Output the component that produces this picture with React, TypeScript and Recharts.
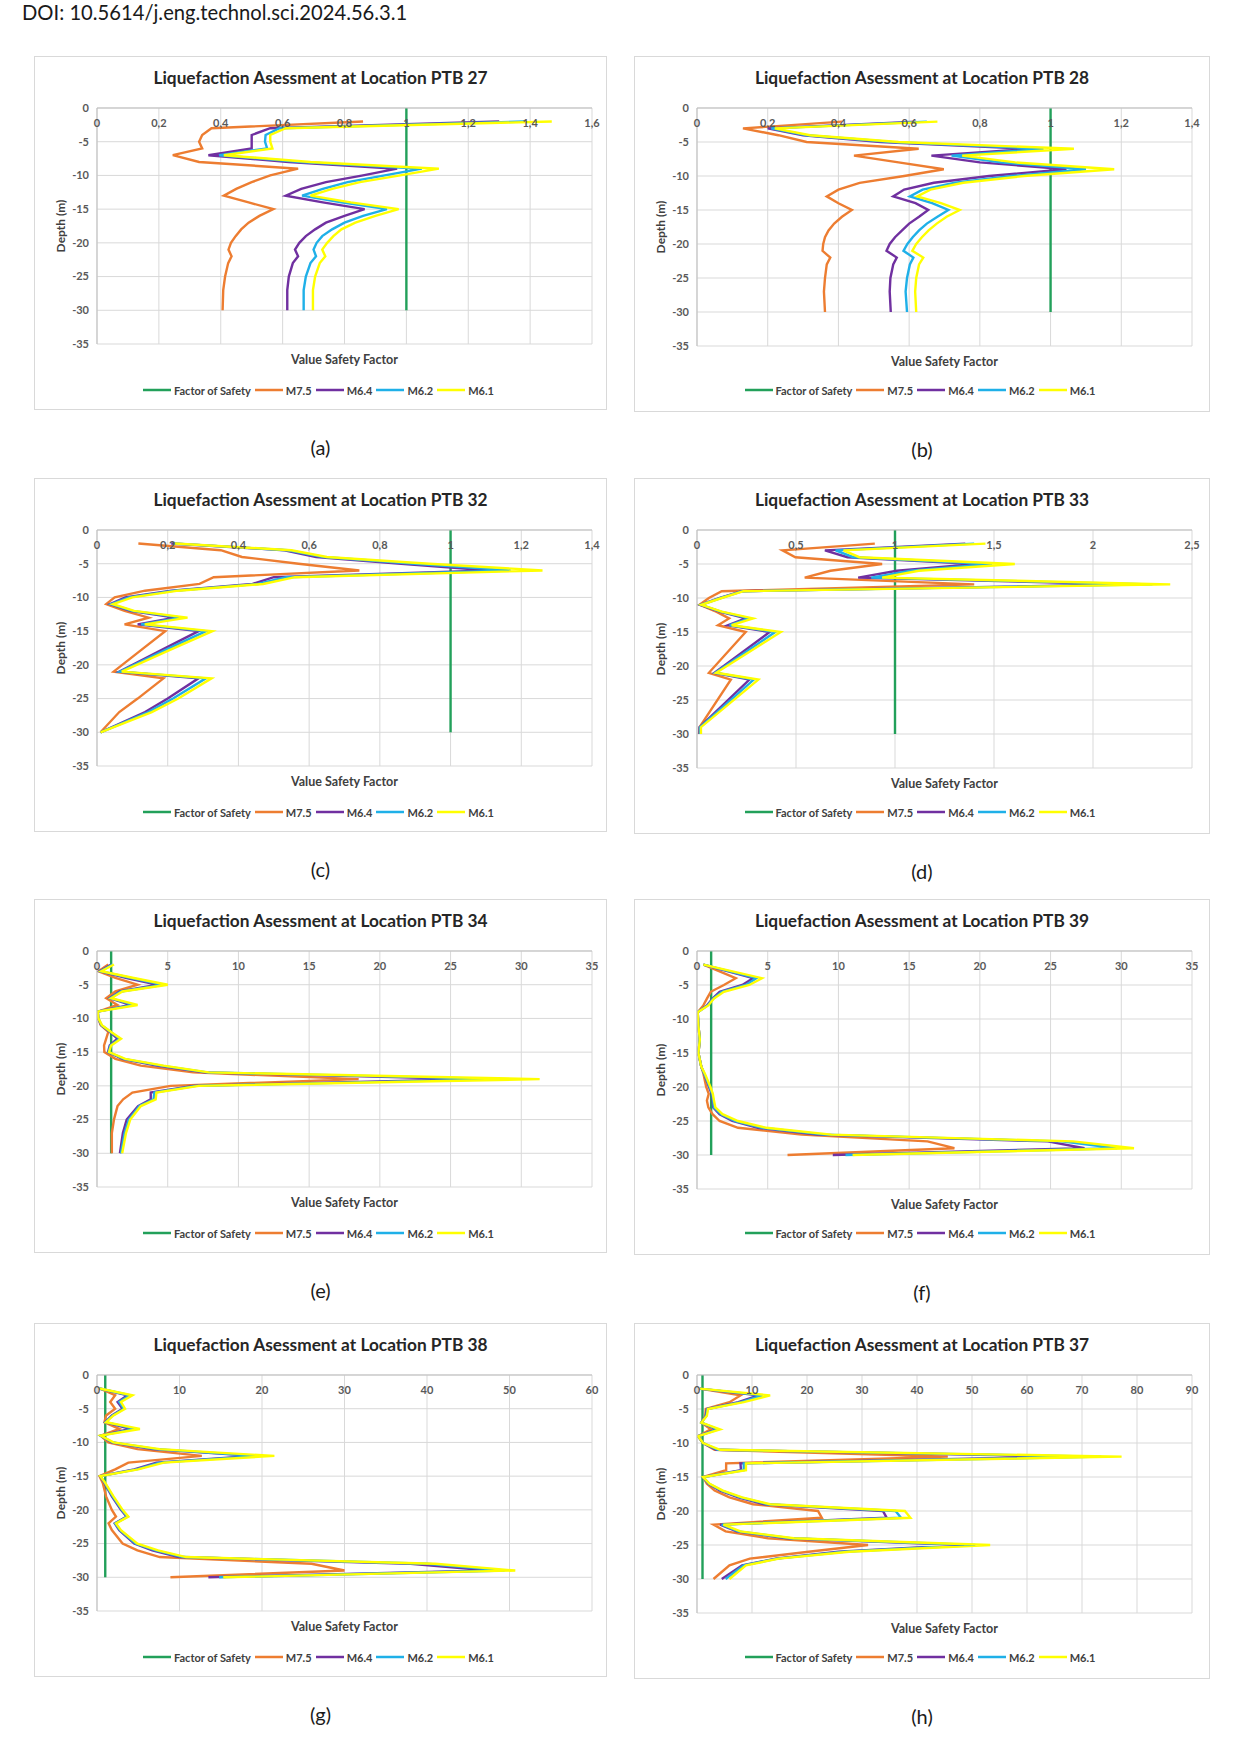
import { CartesianGrid, Legend, Line, LineChart, XAxis, YAxis } from "recharts";

const FONT = "Lato, 'Open Sans', sans-serif";

// depth below ground (m) shared by every borehole plot
const depthTicks = [0, -5, -10, -15, -20, -25, -30, -35];
const fosDepth = [0, -30];
const fosValue = [1, 1];

// PTB 27
const ptb27Ticks = [0, 0.2, 0.4, 0.6, 0.8, 1, 1.2, 1.4, 1.6];
const ptb27Depth = [-2, -3, -4, -5, -6, -7, -8, -9, -10, -11, -12, -13, -14, -15, -16, -17, -18, -19, -20, -21, -22, -23, -25, -27, -30];
const ptb27M75 = [0.86, 0.37, 0.34, 0.33, 0.34, 0.245, 0.33, 0.65, 0.56, 0.5, 0.45, 0.41, 0.49, 0.57, 0.525, 0.49, 0.466, 0.448, 0.433, 0.425, 0.435, 0.424, 0.414, 0.408, 0.406];
const ptb27M64 = [1.3, 0.56, 0.5, 0.5, 0.5, 0.36, 0.62, 0.97, 0.86, 0.74, 0.66, 0.61, 0.73, 0.865, 0.8, 0.74, 0.705, 0.675, 0.654, 0.64, 0.65, 0.633, 0.62, 0.615, 0.615];
const ptb27M62 = [1.38, 0.59, 0.545, 0.543, 0.55, 0.395, 0.66, 1.05, 0.93, 0.81, 0.73, 0.663, 0.79, 0.937, 0.86, 0.8, 0.76, 0.728, 0.71, 0.7, 0.708, 0.69, 0.675, 0.668, 0.668];
const ptb27M61 = [1.47, 0.61, 0.56, 0.56, 0.567, 0.41, 0.69, 1.105, 0.98, 0.85, 0.76, 0.69, 0.82, 0.975, 0.9, 0.835, 0.79, 0.764, 0.744, 0.728, 0.738, 0.72, 0.705, 0.698, 0.698];

// PTB 28
const ptb28Ticks = [0, 0.2, 0.4, 0.6, 0.8, 1, 1.2, 1.4];
const ptb28Depth = [-2, -3, -4, -5, -6, -7, -8, -9, -10, -11, -12, -13, -14, -15, -16, -17, -18, -19, -20, -21, -22, -23, -25, -27, -30];
const ptb28M75 = [0.41, 0.13, 0.23, 0.31, 0.627, 0.444, 0.57, 0.698, 0.586, 0.46, 0.4, 0.367, 0.4, 0.438, 0.41, 0.388, 0.372, 0.362, 0.357, 0.355, 0.377, 0.367, 0.362, 0.359, 0.362];
const ptb28M64 = [0.62, 0.2, 0.3, 0.52, 0.94, 0.663, 0.8, 1.045, 0.826, 0.67, 0.586, 0.555, 0.618, 0.654, 0.628, 0.6, 0.58, 0.56, 0.545, 0.536, 0.565, 0.555, 0.547, 0.545, 0.548];
const ptb28M62 = [0.65, 0.21, 0.31, 0.55, 0.98, 0.72, 0.86, 1.1, 0.89, 0.73, 0.638, 0.602, 0.665, 0.711, 0.68, 0.65, 0.628, 0.61, 0.595, 0.584, 0.612, 0.602, 0.594, 0.59, 0.594];
const ptb28M61 = [0.68, 0.22, 0.32, 0.57, 1.066, 0.75, 0.9, 1.18, 0.925, 0.753, 0.66, 0.623, 0.69, 0.743, 0.706, 0.678, 0.655, 0.636, 0.62, 0.609, 0.64, 0.628, 0.62, 0.617, 0.62];

// PTB 32
const ptb32Ticks = [0, 0.2, 0.4, 0.6, 0.8, 1, 1.2, 1.4];
const ptb32Depth = [-2, -3, -4, -5, -6, -7, -8, -9, -10, -11, -12, -13, -14, -15, -18, -21, -22, -25, -27, -30];
const ptb32M75 = [0.117, 0.35, 0.41, 0.57, 0.742, 0.33, 0.29, 0.136, 0.05, 0.026, 0.078, 0.146, 0.078, 0.193, 0.12, 0.047, 0.188, 0.115, 0.063, 0.01];
const ptb32M64 = [0.21, 0.53, 0.62, 0.86, 1.113, 0.5, 0.44, 0.21, 0.08, 0.037, 0.094, 0.22, 0.115, 0.287, 0.175, 0.063, 0.287, 0.2, 0.136, 0.01];
const ptb32M62 = [0.215, 0.54, 0.64, 0.9, 1.17, 0.535, 0.455, 0.22, 0.09, 0.04, 0.1, 0.24, 0.125, 0.308, 0.185, 0.065, 0.308, 0.215, 0.145, 0.01];
const ptb32M61 = [0.22, 0.55, 0.65, 0.94, 1.26, 0.56, 0.47, 0.23, 0.1, 0.045, 0.105, 0.256, 0.135, 0.326, 0.197, 0.07, 0.324, 0.23, 0.155, 0.01];

// PTB 33
const ptb33Ticks = [0, 0.5, 1, 1.5, 2, 2.5];
const ptb33Depth = [-2, -3, -4, -5, -6, -7, -8, -9, -10, -11, -12, -13, -14, -15, -21, -22, -29, -30];
const ptb33M75 = [0.898, 0.432, 0.497, 0.935, 0.674, 0.544, 1.4, 0.125, 0.06, 0.013, 0.097, 0.162, 0.106, 0.246, 0.06, 0.171, 0.013, 0.01];
const ptb33M64 = [1.355, 0.646, 0.76, 1.41, 1.01, 0.814, 2.18, 0.227, 0.115, 0.017, 0.115, 0.246, 0.156, 0.367, 0.088, 0.265, 0.013, 0.013];
const ptb33M62 = [1.4, 0.7, 0.79, 1.49, 1.08, 0.88, 2.3, 0.23, 0.12, 0.02, 0.12, 0.265, 0.165, 0.395, 0.092, 0.287, 0.015, 0.015];
const ptb33M61 = [1.457, 0.74, 0.82, 1.605, 1.12, 0.935, 2.39, 0.235, 0.125, 0.022, 0.125, 0.283, 0.175, 0.423, 0.097, 0.31, 0.02, 0.02];

// PTB 34
const ptb34Ticks = [0, 5, 10, 15, 20, 25, 30, 35];
const ptb34Depth = [-2, -3, -4, -5, -6, -7, -8, -9, -10, -11, -12, -13, -14, -15, -16, -17, -18, -19, -20, -21, -22, -23, -25, -27, -30];
const ptb34M75 = [0.8, 0.1, 1.3, 2.87, 1.3, 0.65, 1.44, 0.05, 0.08, 0.26, 0.8, 0.65, 0.5, 0.52, 1.3, 3.1, 6.8, 18.5, 5.2, 2.5, 1.85, 1.45, 1.2, 1.05, 1.05];
const ptb34M64 = [1.0, 0.2, 2.1, 4.3, 1.6, 0.9, 2.35, 0.05, 0.1, 0.3, 0.9, 1.44, 0.9, 0.78, 1.8, 4.2, 7.6, 26.4, 6.8, 3.8, 3.8, 2.9, 2.1, 1.83, 1.62];
const ptb34M62 = [1.1, 0.25, 2.4, 4.7, 1.7, 0.95, 2.6, 0.05, 0.1, 0.32, 0.95, 1.6, 0.95, 0.82, 1.9, 4.5, 7.8, 29.0, 7.0, 4.05, 4.0, 3.0, 2.25, 1.95, 1.7];
const ptb34M61 = [1.2, 0.3, 2.6, 5.0, 1.8, 1.0, 2.87, 0.05, 0.1, 0.35, 1.0, 1.7, 1.0, 0.85, 2.0, 4.7, 7.9, 31.3, 7.2, 4.2, 4.15, 3.1, 2.35, 2.05, 1.78];

// PTB 39
const ptb39Ticks = [0, 5, 10, 15, 20, 25, 30, 35];
const ptb39Depth = [-2, -4, -5, -6, -7, -8, -9, -11, -13, -15, -17, -18, -20, -21, -22, -23, -24, -25, -26, -27, -28, -29, -30];
const ptb39M75 = [0.45, 2.74, 1.9, 0.97, 0.7, 0.45, 0.05, 0.1, 0.2, 0.1, 0.3, 0.45, 0.65, 0.83, 0.7, 0.8, 1.1, 1.6, 2.9, 7.4, 16.3, 18.2, 6.4];
const ptb39M64 = [0.45, 3.96, 3.2, 1.6, 1.1, 0.7, 0.05, 0.1, 0.2, 0.1, 0.3, 0.5, 0.85, 1.04, 1.1, 1.15, 1.6, 2.5, 4.3, 8.5, 24.8, 27.4, 9.6];
const ptb39M62 = [0.45, 4.2, 3.45, 1.75, 1.15, 0.75, 0.05, 0.1, 0.2, 0.1, 0.3, 0.5, 0.9, 1.08, 1.15, 1.2, 1.7, 2.7, 4.6, 9.0, 25.8, 29.7, 10.5];
const ptb39M61 = [0.45, 4.6, 3.7, 1.9, 1.2, 0.8, 0.05, 0.1, 0.2, 0.1, 0.3, 0.55, 0.95, 1.12, 1.2, 1.3, 1.8, 2.9, 4.9, 9.5, 26.6, 30.9, 11.0];

// PTB 38
const ptb38Ticks = [0, 10, 20, 30, 40, 50, 60];
const ptb38Depth = [-2, -3, -4, -5, -6, -7, -8, -9, -10, -11, -12, -13, -14, -15, -16, -18, -20, -21, -22, -23, -25, -26, -27, -28, -29, -30];
const ptb38M75 = [0.3, 2.2, 1.6, 2.2, 1.1, 0.9, 2.7, 0.45, 1.35, 4.9, 12.7, 3.8, 2.2, 0.3, 0.7, 1.1, 1.8, 2.3, 1.4, 1.8, 3.1, 4.9, 7.6, 26, 30.0, 8.9];
const ptb38M64 = [0.3, 3.7, 2.5, 3.1, 1.8, 1.0, 4.0, 0.45, 1.8, 6.7, 18.9, 7.2, 4.5, 0.4, 0.9, 1.8, 2.9, 3.6, 2.15, 2.7, 4.5, 6.7, 9.9, 38, 47.6, 13.5];
const ptb38M62 = [0.3, 4.0, 2.7, 3.25, 1.9, 1.05, 4.6, 0.45, 1.9, 7.2, 19.7, 7.6, 4.8, 0.4, 0.95, 1.9, 3.0, 3.7, 2.2, 2.8, 4.7, 7.1, 10.4, 40, 49.4, 14.8];
const ptb38M61 = [0.3, 4.3, 2.9, 3.4, 2.0, 1.1, 5.2, 0.45, 2.0, 7.6, 21.5, 8.1, 5.0, 0.4, 1.0, 2.0, 3.1, 3.8, 2.3, 2.9, 4.9, 7.4, 10.8, 41, 50.7, 15.3];

// PTB 37
const ptb37Ticks = [0, 10, 20, 30, 40, 50, 60, 70, 80, 90];
const ptb37Depth = [-2, -3, -4, -5, -6, -7, -8, -9, -10, -11, -12, -13, -14, -15, -16, -17, -18, -19, -20, -21, -22, -23, -24, -25, -26, -27, -28, -30];
const ptb37M75 = [0.5, 7.9, 5.9, 1.6, 1.5, 0.8, 2.5, 0.2, 1.1, 3.2, 45.6, 5.3, 5.3, 1.1, 1.8, 3.2, 5.9, 10.2, 22, 22.7, 3.0, 5.2, 12.9, 31.1, 20.3, 9.6, 5.9, 3.0];
const ptb37M64 = [0.5, 11.2, 7.5, 1.8, 1.6, 0.8, 3.5, 0.2, 1.1, 3.5, 68.8, 7.9, 8.0, 1.1, 2.1, 4.2, 7.5, 12.2, 33.8, 34.5, 4.2, 7.2, 16.3, 48.6, 25.7, 14.3, 8.2, 4.5];
const ptb37M62 = [0.5, 11.9, 8.0, 1.9, 1.7, 0.8, 3.8, 0.2, 1.1, 3.8, 73.5, 8.5, 8.5, 1.1, 2.2, 4.5, 7.9, 12.8, 36.1, 37.1, 4.5, 7.5, 17.0, 50.6, 26.7, 14.6, 8.5, 5.2];
const ptb37M61 = [0.5, 13.3, 8.5, 2.0, 1.8, 0.8, 4.2, 0.2, 1.1, 4.2, 77.2, 8.9, 8.9, 1.1, 2.3, 4.7, 8.2, 13.3, 37.8, 38.8, 4.8, 7.9, 17.6, 53.3, 27.7, 14.9, 8.9, 5.9];

const SERIES_NAMES = ["Factor of Safety", "M7.5", "M6.4", "M6.2", "M6.1"];

const COLORS = {
  fos: "#22a05a",
  m75: "#ed7d31",
  m64: "#7030a0",
  m62: "#1fb0e8",
  m61: "#ffff00",
};

const LINE_W = 2.4;

const toPoints = (depth: number[], values: number[]) =>
  depth.map((d, i) => ({ d, v: values[i] }));

const fmtTick = (v: number) => String(v).replace(".", ",");

function TopTick(props: any) {
  const { x, y, payload } = props;
  return (
    <text
      x={x}
      y={y + 19}
      textAnchor="middle"
      fill="#595959"
      fontSize={11}
      fontWeight={700}
      fontFamily={FONT}
    >
      {fmtTick(payload.value)}
    </text>
  );
}

// legend keeps the drawing order of the series
function LegendRow(props: any) {
  const items = [...(props.payload || [])].sort(
    (a: any, b: any) => SERIES_NAMES.indexOf(a.value) - SERIES_NAMES.indexOf(b.value)
  );
  return (
    <div style={{ textAlign: "center", whiteSpace: "nowrap" }}>
      {items.map((it: any) => (
        <span key={it.value} style={{ display: "inline-flex", alignItems: "center", marginRight: 4 }}>
          <svg width={28} height={4} style={{ marginRight: 3 }}>
            <line x1={0} y1={2} x2={28} y2={2} stroke={it.color} strokeWidth={2.5} />
          </svg>
          <span style={{ color: "#404040", fontSize: 11, fontWeight: 700, fontFamily: FONT }}>
            {it.value}
          </span>
        </span>
      ))}
    </div>
  );
}

interface PanelProps {
  title: string;
  caption: string;
  left: number;
  top: number;
  width: number;
  height: number;
  rightGap: number;
  plotBottom: number;
  xTicks: number[];
  depth: number[];
  m75: number[];
  m64: number[];
  m62: number[];
  m61: number[];
}

function Panel(p: PanelProps) {
  const chartW = p.width - 2;
  const chartH = p.height - 2;
  const plotTop = 51;
  const plotLeft = 62;
  const xMax = p.xTicks[p.xTicks.length - 1];
  const plotCenter = (plotLeft + chartW - p.rightGap) / 2;
  const plotMiddle = (plotTop + p.plotBottom) / 2;

  return (
    <>
      <div
        style={{
          position: "absolute",
          left: p.left,
          top: p.top,
          width: p.width,
          height: p.height,
          boxSizing: "border-box",
          border: "1px solid #d9d9d9",
          background: "#fff",
        }}
      >
        <div
          style={{
            position: "absolute",
            left: 0,
            top: 11,
            width: "100%",
            textAlign: "center",
            fontFamily: FONT,
            fontWeight: 700,
            fontSize: 17.3,
            lineHeight: "20px",
            color: "#262626",
          }}
        >
          {p.title}
        </div>
        <LineChart
          width={chartW}
          height={chartH}
          margin={{ top: plotTop - 20, right: p.rightGap, bottom: chartH - p.plotBottom, left: 0 }}
        >
          <CartesianGrid stroke="#d9d9d9" strokeWidth={1} />
          <XAxis
            type="number"
            dataKey="v"
            orientation="top"
            height={20}
            domain={[0, xMax]}
            ticks={p.xTicks}
            interval={0}
            tickSize={0}
            tickMargin={0}
            tickLine={false}
            axisLine={{ stroke: "#bfbfbf" }}
            tick={TopTick}
            allowDataOverflow
          />
          <YAxis
            type="number"
            width={plotLeft}
            domain={[-35, 0]}
            ticks={depthTicks}
            interval={0}
            tickLine={false}
            axisLine={{ stroke: "#bfbfbf" }}
            tick={{ fill: "#595959", fontSize: 11, fontWeight: 700, fontFamily: FONT }}
          />
          <Legend
            layout="horizontal"
            verticalAlign="middle"
            align="center"
            content={LegendRow}
            wrapperStyle={{ top: 321, left: 0, width: chartW }}
          />
          <Line
            data={toPoints(fosDepth, fosValue)}
            dataKey="d"
            name="Factor of Safety"
            stroke={COLORS.fos}
            strokeWidth={LINE_W}
            dot={false}
            isAnimationActive={false}
          />
          <Line
            data={toPoints(p.depth, p.m75)}
            dataKey="d"
            name="M7.5"
            stroke={COLORS.m75}
            strokeWidth={LINE_W}
            dot={false}
            isAnimationActive={false}
          />
          <Line
            data={toPoints(p.depth, p.m64)}
            dataKey="d"
            name="M6.4"
            stroke={COLORS.m64}
            strokeWidth={LINE_W}
            dot={false}
            isAnimationActive={false}
          />
          <Line
            data={toPoints(p.depth, p.m62)}
            dataKey="d"
            name="M6.2"
            stroke={COLORS.m62}
            strokeWidth={LINE_W}
            dot={false}
            isAnimationActive={false}
          />
          <Line
            data={toPoints(p.depth, p.m61)}
            dataKey="d"
            name="M6.1"
            stroke={COLORS.m61}
            strokeWidth={LINE_W}
            dot={false}
            isAnimationActive={false}
          />
        </LineChart>
        <div
          style={{
            position: "absolute",
            left: plotCenter - 100,
            top: p.plotBottom + 8,
            width: 200,
            textAlign: "center",
            fontFamily: FONT,
            fontWeight: 700,
            fontSize: 12.5,
            lineHeight: "16px",
            color: "#404040",
          }}
        >
          Value Safety Factor
        </div>
        <div
          style={{
            position: "absolute",
            left: 26 - 50,
            top: plotMiddle - 8,
            width: 100,
            height: 16,
            transform: "rotate(-90deg)",
            textAlign: "center",
            fontFamily: FONT,
            fontWeight: 700,
            fontSize: 12,
            lineHeight: "16px",
            color: "#404040",
          }}
        >
          Depth (m)
        </div>
      </div>
      <div
        style={{
          position: "absolute",
          left: p.left + p.width / 2 - 50,
          top: p.top + p.height + 26,
          width: 100,
          textAlign: "center",
          fontFamily: FONT,
          fontSize: 20,
          lineHeight: "22px",
          color: "#1a1a1a",
        }}
      >
        {p.caption}
      </div>
    </>
  );
}

const LEFT = { left: 34, width: 573, height: 354, rightGap: 14, plotBottom: 287 };
const RIGHT = { left: 634, width: 576, height: 356, rightGap: 17, plotBottom: 289 };
const ROWS = [56, 478, 899, 1323];

export default function App() {
  return (
    <div
      style={{
        position: "absolute",
        left: 0,
        top: 0,
        width: 1238,
        height: 1740,
        background: "#fff",
        overflow: "hidden",
      }}
    >
      <div
        style={{
          position: "absolute",
          left: 22,
          top: 1,
          fontFamily: FONT,
          fontSize: 20.2,
          lineHeight: "22px",
          color: "#1a1a1a",
        }}
      >
        DOI: 10.5614/j.eng.technol.sci.2024.56.3.1
      </div>
      <Panel {...LEFT} top={ROWS[0]} title="Liquefaction Asessment at Location PTB 27" caption="(a)"
        xTicks={ptb27Ticks} depth={ptb27Depth} m75={ptb27M75} m64={ptb27M64} m62={ptb27M62} m61={ptb27M61} />
      <Panel {...RIGHT} top={ROWS[0]} title="Liquefaction Asessment at Location PTB 28" caption="(b)"
        xTicks={ptb28Ticks} depth={ptb28Depth} m75={ptb28M75} m64={ptb28M64} m62={ptb28M62} m61={ptb28M61} />
      <Panel {...LEFT} top={ROWS[1]} title="Liquefaction Asessment at Location PTB 32" caption="(c)"
        xTicks={ptb32Ticks} depth={ptb32Depth} m75={ptb32M75} m64={ptb32M64} m62={ptb32M62} m61={ptb32M61} />
      <Panel {...RIGHT} top={ROWS[1]} title="Liquefaction Asessment at Location PTB 33" caption="(d)"
        xTicks={ptb33Ticks} depth={ptb33Depth} m75={ptb33M75} m64={ptb33M64} m62={ptb33M62} m61={ptb33M61} />
      <Panel {...LEFT} top={ROWS[2]} title="Liquefaction Asessment at Location PTB 34" caption="(e)"
        xTicks={ptb34Ticks} depth={ptb34Depth} m75={ptb34M75} m64={ptb34M64} m62={ptb34M62} m61={ptb34M61} />
      <Panel {...RIGHT} top={ROWS[2]} title="Liquefaction Asessment at Location PTB 39" caption="(f)"
        xTicks={ptb39Ticks} depth={ptb39Depth} m75={ptb39M75} m64={ptb39M64} m62={ptb39M62} m61={ptb39M61} />
      <Panel {...LEFT} top={ROWS[3]} title="Liquefaction Asessment at Location PTB 38" caption="(g)"
        xTicks={ptb38Ticks} depth={ptb38Depth} m75={ptb38M75} m64={ptb38M64} m62={ptb38M62} m61={ptb38M61} />
      <Panel {...RIGHT} top={ROWS[3]} title="Liquefaction Asessment at Location PTB 37" caption="(h)"
        xTicks={ptb37Ticks} depth={ptb37Depth} m75={ptb37M75} m64={ptb37M64} m62={ptb37M62} m61={ptb37M61} />
    </div>
  );
}
